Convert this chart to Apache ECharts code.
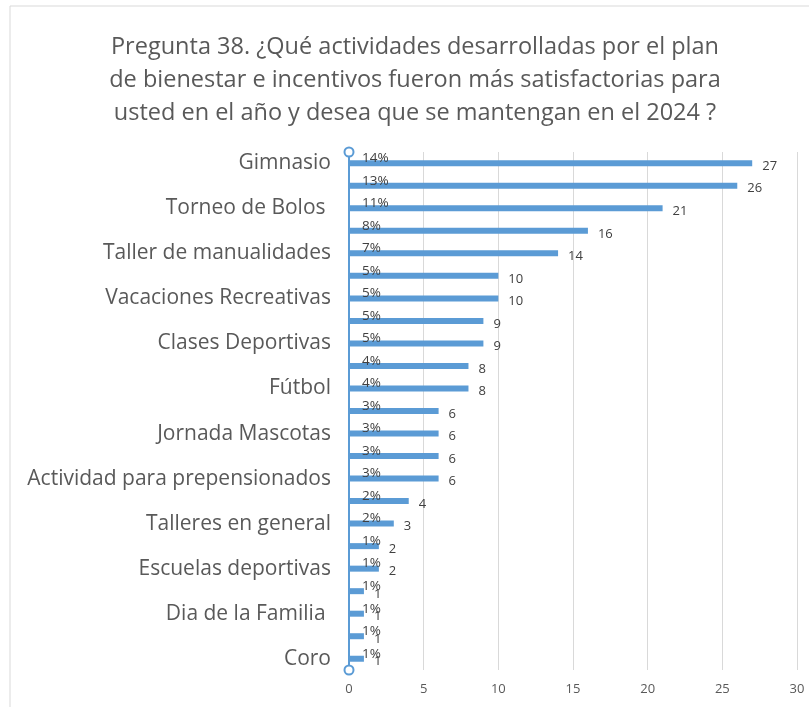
<!DOCTYPE html>
<html>
<head>
<meta charset="utf-8">
<script src="https://cdn.jsdelivr.net/npm/echarts@6/dist/echarts.min.js"></script>
<style>
  html, body { margin: 0; padding: 0; background: #fff; }
  #chart { width: 809px; height: 707px; }
</style>
</head>
<body>
<div id="chart"></div>
<script>
// actividades (solo se ven una de cada dos en el original)
var categorias = [
  "Gimnasio", "", "Torneo de Bolos ", "", "Taller de manualidades", "",
  "Vacaciones Recreativas", "", "Clases Deportivas", "", "Fútbol", "",
  "Jornada Mascotas", "", "Actividad para prepensionados", "",
  "Talleres en general", "", "Escuelas deportivas", "", "Dia de la Familia ", "", "Coro"
];
// respuestas
var valores = [27, 26, 21, 16, 14, 10, 10, 9, 9, 8, 8, 6, 6, 6, 6, 4, 3, 2, 2, 1, 1, 1, 1];
// porcentajes que salen en la etiqueta
var porcentajes = [14, 13, 11, 8, 7, 5, 5, 5, 5, 4, 4, 3, 3, 3, 3, 2, 2, 1, 1, 1, 1, 1, 1];
var ticksX = [0, 5, 10, 15, 20, 25, 30];

var titulo = "Pregunta 38. ¿Qué actividades desarrolladas por el plan\n" +
  "de bienestar e incentivos fueron más satisfactorias para\n" +
  "usted en el año y desea que se mantengan en el 2024 ?";

var azul = "#5B9BD5";
var fuente = "'Open Sans', sans-serif";

var chart = echarts.init(document.getElementById("chart"));
var option = {
  animation: false,
  title: {
    text: titulo,
    left: 410,
    top: 26,
    textAlign: "center",
    textStyle: {
      fontFamily: fuente,
      fontSize: 23.5,
      fontWeight: "normal",
      color: "#595959",
      lineHeight: 33
    }
  },
  graphic: [{
    type: "rect",
    shape: { x: 10, y: 6, width: 820, height: 740 },
    style: { fill: "none", stroke: "#d9d9d9", lineWidth: 1 },
    silent: true
  }],
  grid: {
    left: 349,
    right: 12,
    top: 152,
    bottom: 37
  },
  xAxis: {
    type: "value",
    min: ticksX[0],
    max: ticksX[ticksX.length - 1],
    interval: 5,
    axisLine: { show: false },
    axisTick: { show: false },
    axisLabel: {
      color: "#595959",
      fontFamily: fuente,
      fontSize: 13,
      margin: 13
    },
    splitLine: { lineStyle: { color: "#d9d9d9", width: 1 } }
  },
  yAxis: {
    type: "category",
    data: categorias,
    inverse: true,
    axisTick: { show: false },
    axisLine: {
      lineStyle: { color: azul, width: 2 },
      symbol: ["emptyCircle", "emptyCircle"],
      symbolSize: [9, 9]
    },
    axisLabel: {
      interval: 0,
      color: "#595959",
      fontFamily: fuente,
      fontSize: 21,
      margin: 18
    }
  },
  series: [
    {
      type: "bar",
      data: valores,
      barWidth: 6,
      itemStyle: { color: azul },
      label: {
        show: true,
        position: "right",
        distance: 10,
        offset: [0, 3],
        color: "#404040",
        fontFamily: fuente,
        fontSize: 13
      },
      z: 2
    },
    {
      type: "bar",
      data: valores,
      barWidth: 6,
      barGap: "-100%",
      itemStyle: { color: "rgba(0,0,0,0)" },
      label: {
        show: true,
        position: "insideLeft",
        offset: [8, -5],
        color: "#404040",
        fontFamily: fuente,
        fontSize: 13.5,
        formatter: function (p) {
          return porcentajes[p.dataIndex] + "%";
        }
      },
      z: 3
    }
  ]
};
chart.setOption(option);
</script>
</body>
</html>
